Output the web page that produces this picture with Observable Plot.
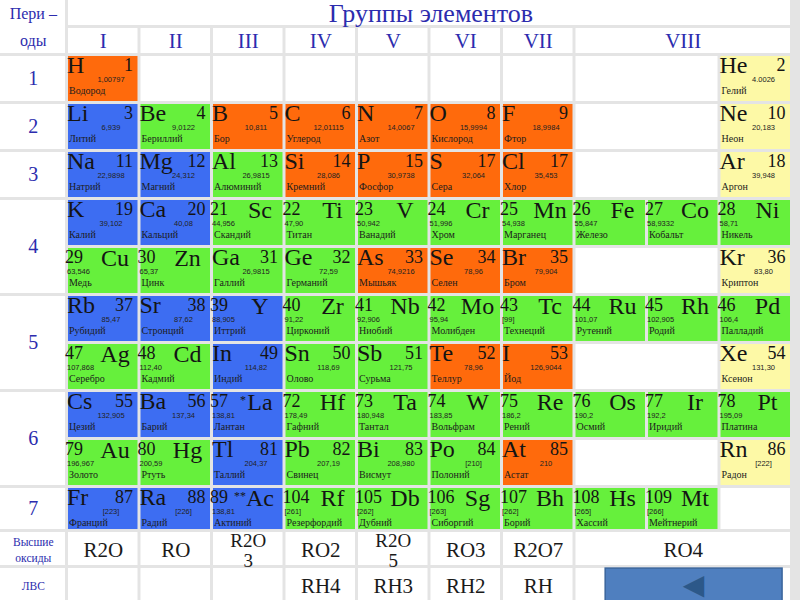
<!DOCTYPE html>
<html><head><meta charset="utf-8">
<script src="https://cdn.jsdelivr.net/npm/d3@7"></script>
<script src="https://cdn.jsdelivr.net/npm/@observablehq/plot@0.6"></script>
<style>html,body{margin:0;padding:0;background:#e4e4e4;} svg{display:block}</style>
</head><body><div id="chart"></div>
<script>
// ---------- data ----------
const titleText = "Группы элементов";
const groupLabels = ["I","II","III","IV","V","VI","VII","VIII"];
const periodLabels = ["1","2","3","4","5","6","7"];
const oxides = ["R2O","RO","R2O\n3","RO2","R2O\n5","RO3","R2O7","RO4"];
const hydrides = ["","","","RH4","RH3","RH2","RH",""];

const symbols = ["H","He",
 "Li","Be","B","C","N","O","F","Ne",
 "Na","Mg","Al","Si","P","S","Cl","Ar",
 "K","Ca","Sc","Ti","V","Cr","Mn","Fe","Co","Ni",
 "Cu","Zn","Ga","Ge","As","Se","Br","Kr",
 "Rb","Sr","Y","Zr","Nb","Mo","Tc","Ru","Rh","Pd",
 "Ag","Cd","In","Sn","Sb","Te","I","Xe",
 "Cs","Ba","La","Hf","Ta","W","Re","Os","Ir","Pt",
 "Au","Hg","Tl","Pb","Bi","Po","At","Rn",
 "Fr","Ra","Ac","Rf","Db","Sg","Bh","Hs","Mt"];
const footMarks = {La:"*", Ac:"**"}; // footnote marks shown before the symbol
const numbers = [1,2,
 3,4,5,6,7,8,9,10,
 11,12,13,14,15,17,17,18,
 19,20,21,22,23,24,25,26,27,28,
 29,30,31,32,33,34,35,36,
 37,38,39,40,41,42,43,44,45,46,
 47,48,49,50,51,52,53,54,
 55,56,57,72,73,74,75,76,77,78,
 79,80,81,82,83,84,85,86,
 87,88,89,104,105,106,107,108,109];
const masses = ["1,00797","4.0026",
 "6,939","9,0122","10,811","12,01115","14,0067","15,9994","18,9984","20,183",
 "22,9898","24,312","26,9815","28,086","30,9738","32,064","35,453","39,948",
 "39,102","40,08","44,956","47,90","50,942","51,996","54,938","55,847","58,9332","58,71",
 "63,546","65,37","26,9815","72,59","74,9216","78,96","79,904","83,80",
 "85,47","87,62","88,905","91,22","92,906","95,94","[99]","101,07","102,905","106,4",
 "107,868","112,40","114,82","118,69","121,75","78,96","126,9044","131,30",
 "132,905","137,34","138,81","178,49","180,948","183,85","186,2","190,2","192,2","195,09",
 "196,967","200,59","204,37","207,19","208,980","[210]","210","[222]",
 "[223]","[226]","138,81","[261]","[262]","[263]","[262]","[265]","[266]"];
const names = ["Водород","Гелий",
 "Литий","Бериллий","Бор","Углерод","Азот","Кислород","Фтор","Неон",
 "Натрий","Магний","Алюминий","Кремний","Фосфор","Сера","Хлор","Аргон",
 "Калий","Кальций","Скандий","Титан","Ванадий","Хром","Марганец","Железо","Кобальт","Никель",
 "Медь","Цинк","Галлий","Германий","Мышьяк","Селен","Бром","Криптон",
 "Рубидий","Стронций","Иттрий","Цирконий","Ниобий","Молибден","Технеций","Рутений","Родий","Палладий",
 "Серебро","Кадмий","Индий","Олово","Сурьма","Теллур","Йод","Ксенон",
 "Цезий","Барий","Лантан","Гафний","Тантал","Вольфрам","Рений","Осмий","Иридий","Платина",
 "Золото","Ртуть","Таллий","Свинец","Висмут","Полоний","Астат","Радон",
 "Франций","Радий","Актиний","Резерфордий","Дубний","Сиборгий","Борий","Хассий","Мейтнерий"];
// table row (0..9) and table column (0..6 = groups I..VII, 7..9 = group VIII)
const rowIdx = [0,0, 1,1,1,1,1,1,1,1, 2,2,2,2,2,2,2,2, 3,3,3,3,3,3,3,3,3,3,
 4,4,4,4,4,4,4,4, 5,5,5,5,5,5,5,5,5,5, 6,6,6,6,6,6,6,6, 7,7,7,7,7,7,7,7,7,7,
 8,8,8,8,8,8,8,8, 9,9,9,9,9,9,9,9,9];
const colIdx = [0,9, 0,1,2,3,4,5,6,9, 0,1,2,3,4,5,6,9, 0,1,2,3,4,5,6,7,8,9,
 0,1,2,3,4,5,6,9, 0,1,2,3,4,5,6,7,8,9, 0,1,2,3,4,5,6,9, 0,1,2,3,4,5,6,7,8,9,
 0,1,2,3,4,5,6,9, 0,1,2,3,4,5,6,7,8];
// subgroup: A = main, B = side
const subgroup = ("AA AAAAAAAA AAAAAAAA AABBBBBBBB BBAAAAAA AABBBBBBBB BBAAAAAA AABBBBBBBB BBAAAAAA AABBBBBBB").replace(/ /g,"").split("");
// kind: b = blue, g = green, o = orange, y = yellow
const kinds = ("oy bgoooooy bbgooooy bbgggggggg ggggoooy bbbggggggg ggbggooy bbbggggggg ggbgggoy bbbgggggg").replace(/ /g,"").split("");

// ---------- layout / style ----------
const palette = {b:"#3d6df2", g:"#66f03c", o:"#ff6a0c", y:"#fdf9a6"};
const serif = "'Liberation Serif', 'Times New Roman', serif";
const sans = "'Liberation Sans', Arial, sans-serif";
const headBlue = "#2c2cae";
const LAB = -0.93; // label column left edge (col units)
const bands = {title:[-1.2,-0.583], groups:[-0.583,0], last:[9,9.917], ox:[9.917,10.667], lvs:[10.667,11.5]};
const rowBand = r => r === 9 ? bands.last : [r, r + 1];

const elems = symbols.map((s,i)=>({sym:s, pre:footMarks[s]||"", num:String(numbers[i]), mass:masses[i], name:names[i],
  row:rowIdx[i], col:colIdx[i], sub:subgroup[i], kind:kinds[i]}));

// cells
const cells = [];
const white = "#ffffff";
cells.push({x1:LAB-0.1, x2:0, y1:bands.title[0], y2:bands.groups[1], fill:white});
cells.push({x1:0, x2:10, y1:bands.title[0], y2:bands.title[1], fill:white});
groupLabels.forEach((g,i)=>cells.push({x1:i, x2:i<7?i+1:10, y1:bands.groups[0], y2:bands.groups[1], fill:white}));
const periodSpans = [[0,1],[1,2],[2,3],[3,5],[5,7],[7,9],bands.last];
periodSpans.forEach(s=>cells.push({x1:LAB-0.1, x2:0, y1:s[0], y2:s[1], fill:white}));
for (let r=0;r<10;r++){
  const [y1,y2] = rowBand(r);
  const occ = new Set(elems.filter(d=>d.row===r).map(d=>d.col));
  for (let c=0;c<7;c++) if(!occ.has(c)) cells.push({x1:c,x2:c+1,y1,y2,fill:white});
  if(!occ.has(7) && !occ.has(8)) cells.push({x1:7,x2:9,y1,y2,fill:white});
  else { if(!occ.has(7)) cells.push({x1:7,x2:8,y1,y2,fill:white}); if(!occ.has(8)) cells.push({x1:8,x2:9,y1,y2,fill:white}); }
  if(!occ.has(9)) cells.push({x1:9,x2:10,y1,y2,fill:white});
}
elems.forEach(d=>{const [y1,y2]=rowBand(d.row); cells.push({x1:d.col,x2:d.col+1,y1,y2,fill:palette[d.kind]});});
for (const b of [bands.ox, bands.lvs]){
  cells.push({x1:LAB-0.1,x2:0,y1:b[0],y2:b[1],fill:white});
  for (let c=0;c<7;c++) cells.push({x1:c,x2:c+1,y1:b[0],y2:b[1],fill:white});
  cells.push({x1:7,x2:10,y1:b[0],y2:b[1],fill:white});
}

const A = elems.filter(d=>d.sub==="A"), B = elems.filter(d=>d.sub==="B");
const Bpre = B.filter(d=>d.pre);
const ink = "#141414";
const groupCenters = groupLabels.map((g,i)=>({g, x: i<7 ? i+0.5 : 8.5}));
const periodCenters = periodLabels.map((p,i)=>({p, y:(periodSpans[i][0]+periodSpans[i][1])/2}));
const oxCenter = (bands.ox[0]+bands.ox[1])/2;
const oxRow = oxides.map((t,i)=>({t, x: i<7 ? i+0.5 : 8.5, y:oxCenter}));
const oxSingle = oxRow.filter(d=>!d.t.includes("\n"));
const oxMulti = oxRow.filter(d=>d.t.includes("\n"));
const hyRow = hydrides.map((t,i)=>({t, x: i<7 ? i+0.5 : 8.5, y:(bands.lvs[0]+bands.lvs[1])/2 - 0.02})).filter(d=>d.t);
const leftTop = [{t:"Пери –", y:-0.86}, {t:"оды", y:-0.30}];
const leftBottom = [{t:"Высшие\nоксиды", y:oxCenter}, {t:"ЛВС", y:(bands.lvs[0]+bands.lvs[1])/2 - 0.05}];

const chart = Plot.plot({
  width: 800, height: 600, margin: 0,
  x: {type:"linear", domain:[-66.5/72.5, 733.5/72.5], range:[0,800], axis:null},
  y: {type:"linear", domain:[-54.5/48, 545.5/48], range:[0,600], axis:null},
  color: {type:"identity"},
  style: {background:"#e4e4e4", fontFamily: serif},
  marks: [
    Plot.rect(cells, {x1:"x1", x2:"x2", y1:"y1", y2:"y2", fill:"fill", inset:1.5}),
    // header
    Plot.text([titleText], {x:5.02, y:(bands.title[0]+bands.title[1])/2 + 0.04, text:d=>d, fontSize:26, fontFamily:serif, fill:headBlue}),
    Plot.text(groupCenters, {x:"x", y:(bands.groups[0]+bands.groups[1])/2, text:"g", fontSize:21, fontFamily:serif, fill:headBlue}),
    Plot.text(leftTop, {x:LAB/2, y:"y", text:"t", fontSize:16, fontFamily:serif, fill:headBlue}),
    Plot.text(leftBottom, {x:LAB/2, y:"y", text:"t", fontSize:11.5, lineHeight:1.35, fontFamily:serif, fill:headBlue}),
    Plot.text(periodCenters, {x:LAB/2, y:"y", text:"p", fontSize:20, fontFamily:serif, fill:headBlue}),
    // main subgroup cells
    Plot.text(A, {x:"col", y:"row", text:"sym", dx:0, dy:18, textAnchor:"start", lineAnchor:"bottom", fontSize:24, fontFamily:serif, fill:ink}),
    Plot.text(A, {x:"col", y:"row", text:"num", dx:66, dy:16, textAnchor:"end", lineAnchor:"bottom", fontSize:18, fontFamily:serif, fill:ink}),
    Plot.text(A, {x:"col", y:"row", text:"mass", dx:44, dy:26.5, textAnchor:"middle", lineAnchor:"bottom", fontSize:7.5, fontFamily:sans, fill:"#222"}),
    // side subgroup cells
    Plot.text(B, {x:"col", y:"row", text:"num", dx:-2, dy:16, textAnchor:"start", lineAnchor:"bottom", fontSize:18, fontFamily:serif, fill:ink}),
    Plot.text(B, {x:"col", y:"row", text:"sym", dx:48, dy:19, textAnchor:"middle", lineAnchor:"bottom", fontSize:24, fontFamily:serif, fill:ink}),
    Plot.text(Bpre, {x:"col", y:"row", text:"pre", dx:34, dy:13, textAnchor:"end", lineAnchor:"bottom", fontSize:12, fontFamily:serif, fill:ink}),
    Plot.text(B, {x:"col", y:"row", text:"mass", dx:0, dy:26.5, textAnchor:"start", lineAnchor:"bottom", fontSize:7.5, fontFamily:sans, fill:"#222"}),
    // names
    Plot.text(elems, {x:"col", y:"row", text:"name", dx:2, dy:38.5, textAnchor:"start", lineAnchor:"bottom", fontSize:10, fontFamily:serif, fill:"#1c1c1c"}),
    // oxides & hydrides
    Plot.text(oxSingle, {x:"x", y:"y", text:"t", dy:1, fontSize:21, fontFamily:serif, fill:"#1a1a1a"}),
    Plot.text(oxMulti, {x:"x", y:"y", text:"t", dy:1.5, fontSize:19, lineHeight:1.08, fontFamily:serif, fill:"#1a1a1a"}),
    Plot.text(hyRow, {x:"x", y:"y", text:"t", fontSize:21, fontFamily:serif, fill:"#1a1a1a"}),
    // navigation button
    Plot.rect([0], {x1:7.43, x2:9.87, y1:10.70, y2:11.6, fill:"#4f7fbf", stroke:"#3a659c", strokeWidth:1.5}),
    Plot.text(["◀"], {x:8.64, y:11.04, text:d=>d, fontSize:28, fontFamily:"'DejaVu Sans'", fill:"#2c5889"})
  ]
});
// make each text carry its mark's font family explicitly
chart.querySelectorAll("g[font-family]").forEach(g => {
  const f = g.getAttribute("font-family");
  g.querySelectorAll("text, tspan").forEach(t => { t.style.fontFamily = f; });
});
document.getElementById("chart").appendChild(chart);
</script>
</body></html>
